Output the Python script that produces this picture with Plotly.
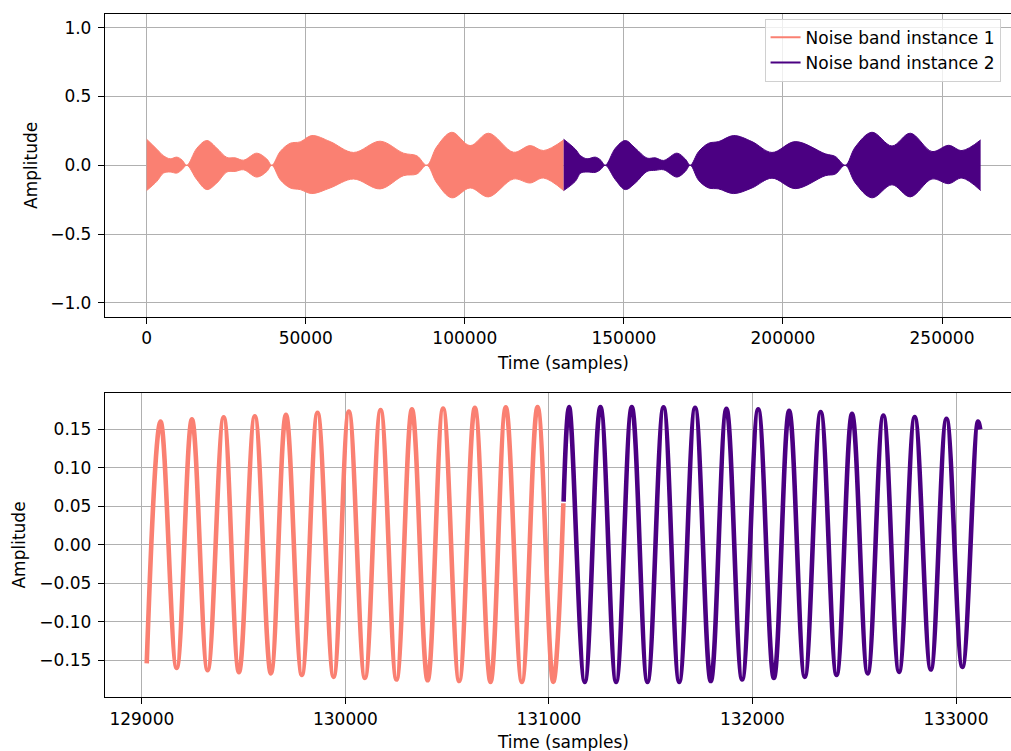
import plotly.graph_objects as go

SALMON = "#FA8072"
INDIGO = "#4B0082"
FONT = "DejaVu Sans"

# ---- full-length view: amplitude envelope of each noise band instance ----
band1_t = [0, 3196, 5291, 7386, 9482, 11054, 12625, 15768, 18911, 22055, 25198,
           27816, 30436, 34626, 37770, 39342, 41961, 45104, 48246, 51914, 57675,
           65009, 73391, 80724, 84916, 88059, 91203, 95918, 101678, 107440,
           115298, 120537, 124728, 131071]
band1_upper = [0.189, 0.117, 0.069, 0.047, 0.059, 0.040, 0.0, 0.124, 0.180, 0.124,
               0.057, 0.054, 0.037, 0.088, 0.045, 0.0, 0.100, 0.160, 0.170, 0.216,
               0.172, 0.093, 0.175, 0.088, 0.069, 0.0, 0.136, 0.240, 0.143, 0.233,
               0.095, 0.143, 0.107, 0.184]
band1_lower = [0.184, 0.117, 0.057, 0.049, 0.057, 0.033, 0.0, 0.105, 0.177, 0.129,
               0.049, 0.045, 0.033, 0.086, 0.045, 0.0, 0.105, 0.165, 0.177, 0.206,
               0.165, 0.100, 0.172, 0.076, 0.064, 0.0, 0.129, 0.237, 0.165, 0.230,
               0.100, 0.129, 0.093, 0.184]

band2_t = [131072, 134739, 136406, 138406, 141025, 142597, 144168, 147311, 150454,
           153597, 157264, 159883, 162502, 166693, 169312, 170884, 173503, 176646,
           179789, 184503, 190266, 196552, 203886, 213315, 216458, 219601, 222744,
           227983, 234269, 240032, 246842, 252080, 256271, 262143]
band2_upper = [0.189, 0.117, 0.069, 0.047, 0.059, 0.040, 0.0, 0.124, 0.180, 0.124,
               0.052, 0.054, 0.035, 0.088, 0.045, 0.0, 0.100, 0.160, 0.172, 0.216,
               0.172, 0.093, 0.172, 0.083, 0.064, 0.0, 0.133, 0.240, 0.140, 0.233,
               0.100, 0.145, 0.107, 0.184]
band2_lower = [0.184, 0.117, 0.057, 0.049, 0.052, 0.033, 0.0, 0.105, 0.177, 0.129,
               0.045, 0.037, 0.033, 0.086, 0.045, 0.0, 0.110, 0.165, 0.172, 0.206,
               0.165, 0.094, 0.170, 0.076, 0.064, 0.0, 0.129, 0.237, 0.142, 0.230,
               0.100, 0.134, 0.093, 0.184]

# ---- close-up around the join: waveform extrema (sample, amplitude) ----
zoom1_t = [129024, 129092, 129171, 129246, 129323, 129402, 129477, 129555, 129634,
           129708, 129786, 129863, 129942, 130017, 130096, 130173, 130251, 130327,
           130404, 130480, 130559, 130636, 130713, 130788, 130867, 130944, 131021,
           131071]
zoom1_amp = [-0.154, 0.160, -0.160, 0.163, -0.163, 0.1655, -0.1655, 0.167, -0.167,
             0.169, -0.169, 0.1716, -0.1716, 0.173, -0.173, 0.175, -0.175, 0.176,
             -0.176, 0.177, -0.177, 0.178, -0.178, 0.1785, -0.178, 0.179, -0.178,
             0.054]

zoom2_t = [131072, 131099, 131176, 131253, 131330, 131407, 131484, 131563, 131640,
           131718, 131795, 131872, 131949, 132028, 132105, 132180, 132257, 132335,
           132413, 132489, 132566, 132643, 132720, 132797, 132876, 132953, 133031,
           133108, 133119]
zoom2_amp = [0.056, 0.179, -0.178, 0.179, -0.178, 0.179, -0.178, 0.1785, -0.178,
             0.178, -0.177, 0.1768, -0.175, 0.176, -0.173, 0.174, -0.1716, 0.1725,
             -0.169, 0.170, -0.167, 0.168, -0.165, 0.166, -0.162, 0.1637, -0.1587,
             0.160, 0.150]

# ---- tick labels ----
top_xticks = [0, 50000, 100000, 150000, 200000, 250000]
top_xlabels = ["0", "50000", "100000", "150000", "200000", "250000"]
top_yticks = [-1.0, -0.5, 0.0, 0.5, 1.0]
top_ylabels = ["\u22121.0", "\u22120.5", "0.0", "0.5", "1.0"]
bot_xticks = [129000, 130000, 131000, 132000, 133000]
bot_xlabels = ["129000", "130000", "131000", "132000", "133000"]
bot_yticks = [-0.15, -0.10, -0.05, 0.0, 0.05, 0.10, 0.15]
bot_ylabels = ["\u22120.15", "\u22120.10", "\u22120.05", "0.00", "0.05", "0.10", "0.15"]

fig = go.Figure()

# filled envelopes for the full-length view
for t, up, lo, color in [(band1_t, band1_upper, band1_lower, SALMON),
                         (band2_t, band2_upper, band2_lower, INDIGO)]:
    fig.add_trace(go.Scatter(
        x=t, y=up, mode="lines", xaxis="x", yaxis="y",
        line=dict(color=color, width=1, shape="spline", smoothing=1.0),
        showlegend=False, hoverinfo="skip"))
    fig.add_trace(go.Scatter(
        x=t, y=[-v for v in lo], mode="lines", xaxis="x", yaxis="y",
        line=dict(color=color, width=1, shape="spline", smoothing=1.0),
        fill="tonexty", fillcolor=color, showlegend=False, hoverinfo="skip"))

# legend entries
fig.add_trace(go.Scatter(x=[None], y=[None], mode="lines", xaxis="x", yaxis="y",
                         line=dict(color=SALMON, width=2), name="Noise band instance 1"))
fig.add_trace(go.Scatter(x=[None], y=[None], mode="lines", xaxis="x", yaxis="y",
                         line=dict(color=INDIGO, width=2), name="Noise band instance 2"))

# close-up waveforms
fig.add_trace(go.Scatter(
    x=zoom1_t, y=zoom1_amp, mode="lines", xaxis="x2", yaxis="y2",
    line=dict(color=SALMON, width=4.6, shape="spline", smoothing=1.1),
    showlegend=False))
fig.add_trace(go.Scatter(
    x=zoom2_t, y=zoom2_amp, mode="lines", xaxis="x2", yaxis="y2",
    line=dict(color=INDIGO, width=4.6, shape="spline", smoothing=1.1),
    showlegend=False))

axis_common = dict(
    showgrid=True, gridcolor="#b0b0b0", gridwidth=1.1,
    showline=True, linecolor="black", linewidth=1.3,
    ticks="outside", ticklen=6, tickwidth=1.2, tickcolor="black",
    zeroline=False, tickfont=dict(family=FONT, size=17, color="black"),
    tickmode="array",
)

fig.update_layout(
    width=1011, height=751,
    margin=dict(l=105, r=0, t=14, b=54),
    paper_bgcolor="white", plot_bgcolor="white",
    font=dict(family=FONT, size=17, color="black"),
    xaxis=dict(domain=[0, 1], anchor="y", range=[-13107, 271686], mirror=True,
               tickvals=top_xticks, ticktext=top_xlabels, **axis_common),
    yaxis=dict(domain=[0.5571, 1], anchor="x", range=[-1.1, 1.1],
               tickvals=top_yticks, ticktext=top_ylabels, ticklabelstandoff=3,
               **axis_common),
    xaxis2=dict(domain=[0, 1], anchor="y2", range=[128819, 133270], mirror=True,
                tickvals=bot_xticks, ticktext=bot_xlabels, **axis_common),
    yaxis2=dict(domain=[0, 0.4457], anchor="x2", range=[-0.1977, 0.1977],
                tickvals=bot_yticks, ticktext=bot_ylabels, ticklabelstandoff=3,
                **axis_common),
    legend=dict(x=0.728, y=0.993, xanchor="left", yanchor="top",
                traceorder="normal",
                bgcolor="rgba(255,255,255,0.8)", bordercolor="#d0d0d0", borderwidth=1,
                font=dict(family=FONT, size=17, color="black"),
                tracegroupgap=0, itemwidth=30),
    annotations=[
        dict(text="Time (samples)", xref="paper", yref="paper", x=0.506, y=0.489,
             xanchor="center", yanchor="middle", showarrow=False,
             font=dict(family=FONT, size=17, color="black")),
        dict(text="Time (samples)", xref="paper", yref="paper", x=0.506, y=-0.0659,
             xanchor="center", yanchor="middle", showarrow=False,
             font=dict(family=FONT, size=17, color="black")),
        dict(text="Amplitude", xref="paper", yref="paper", x=-0.0811, y=0.7784,
             xanchor="center", yanchor="middle", showarrow=False, textangle=-90,
             font=dict(family=FONT, size=17, color="black")),
        dict(text="Amplitude", xref="paper", yref="paper", x=-0.0944, y=0.2225,
             xanchor="center", yanchor="middle", showarrow=False, textangle=-90,
             font=dict(family=FONT, size=17, color="black")),
    ],
)

fig.write_html("out.html")
